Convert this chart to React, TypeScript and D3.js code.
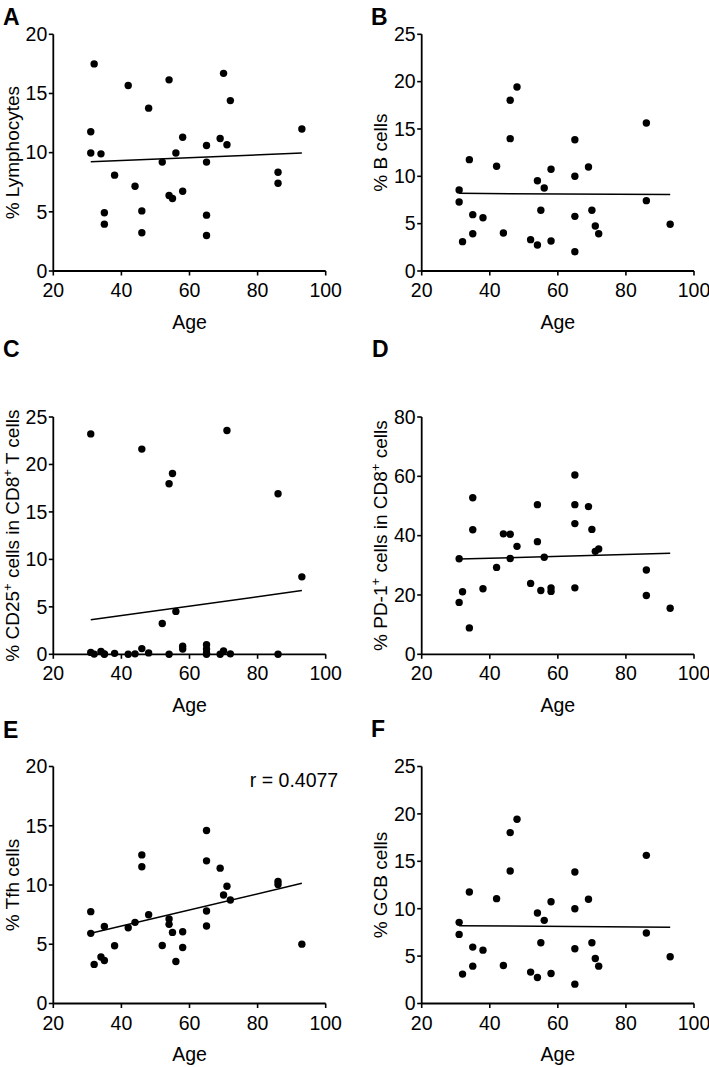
import React from 'react';
import * as d3 from 'd3';

// Ages (shared cohort, x values)
const ages = [31, 31, 32, 34, 35, 35, 38, 42, 44, 46, 46, 48, 52, 54, 54, 55, 56, 58, 58, 65, 65, 65, 65, 69, 70, 71, 72, 86, 86, 93];

// Series values, in the same order as ages
const lymphocytes = [11.77, 9.97, 17.5, 9.9, 4.92, 3.96, 8.1, 15.67, 7.16, 5.08, 3.23, 13.76, 9.2, 16.15, 6.38, 6.12, 9.97, 11.3, 6.74, 10.6, 9.2, 4.72, 3.0, 11.2, 16.7, 10.67, 14.4, 8.34, 7.42, 12.0];
const bCells = [8.56, 7.29, 3.1, 11.76, 5.95, 3.94, 5.63, 11.06, 4.01, 18.03, 13.98, 19.44, 3.31, 9.54, 2.75, 6.41, 8.77, 10.74, 3.17, 13.87, 10.0, 5.77, 2.04, 10.99, 6.41, 4.75, 3.94, 15.63, 7.43, 4.93];
const cd25 = [23.22, 0.2, 0.02, 0.3, 0.05, 0.0, 0.1, 0.0, 0.05, 21.62, 0.6, 0.15, 3.25, 17.96, 0.0, 19.04, 4.52, 0.85, 0.55, 1.0, 0.55, 0.15, 0.0, 0.0, 0.35, 23.57, 0.05, 16.92, 0.0, 8.16];
const pd1 = [32.2, 17.5, 21.07, 8.9, 52.8, 42.0, 22.1, 29.3, 40.6, 40.45, 32.3, 36.4, 23.9, 50.45, 37.97, 21.5, 32.7, 22.4, 21.2, 60.45, 50.45, 44.06, 22.4, 49.8, 42.1, 34.7, 35.5, 28.4, 19.8, 15.5];
const tfh = [7.75, 5.92, 3.3, 3.92, 6.5, 3.63, 4.87, 6.39, 6.85, 12.54, 11.54, 7.49, 4.9, 7.13, 6.68, 6.0, 3.55, 6.06, 4.73, 14.6, 12.04, 7.8, 6.54, 11.42, 9.15, 9.9, 8.73, 10.3, 10.05, 5.01];
const gcb = [8.56, 7.29, 3.1, 11.76, 5.95, 3.94, 5.63, 11.06, 4.01, 18.03, 13.98, 19.44, 3.31, 9.54, 2.75, 6.41, 8.77, 10.74, 3.17, 13.87, 10.0, 5.77, 2.04, 10.99, 6.41, 4.75, 3.94, 15.63, 7.43, 4.93];

// Fitted regression lines (endpoints)
const fitA: [number, number][] = [[31, 9.24], [93, 9.97]];
const fitB: [number, number][] = [[31, 8.2], [93, 8.08]];
const fitC: [number, number][] = [[31, 3.64], [93, 6.71]];
const fitD: [number, number][] = [[31, 32.1], [93, 34.1]];
const fitE: [number, number][] = [[31, 5.92], [93, 10.14]];
const fitF: [number, number][] = [[31, 8.2], [93, 8.05]];

// Tick labels
const xTicks = [20, 40, 60, 80, 100];
const ticks20 = [0, 5, 10, 15, 20];
const ticks25 = [0, 5, 10, 15, 20, 25];
const ticks80 = [0, 20, 40, 60, 80];

type Seg = { t: string; sup?: boolean };

const labelA: Seg[] = [{ t: '% Lymphocytes' }];
const labelB: Seg[] = [{ t: '% B cells' }];
const labelC: Seg[] = [{ t: '% CD25' }, { t: '+', sup: true }, { t: ' cells in CD8' }, { t: '+', sup: true }, { t: ' T cells' }];
const labelD: Seg[] = [{ t: '% PD-1' }, { t: '+', sup: true }, { t: ' cells in CD8' }, { t: '+', sup: true }, { t: ' cells' }];
const labelE: Seg[] = [{ t: '% Tfh cells' }];
const labelF: Seg[] = [{ t: '% GCB cells' }];

const FONT = '"Liberation Sans", Arial, Helvetica, sans-serif';

type PanelCfg = {
  letter: string;
  values: number[];
  fit: [number, number][];
  yTicks: number[];
  label: Seg[];
  x0: number; x1: number; yTop: number; yBot: number;
  letterX: number; letterY: number;
  note?: string;
};

const COLL = [53.3, 325.7];
const COLR = [421.7, 694];

const panels: PanelCfg[] = [
  { letter: 'A', values: lymphocytes, fit: fitA, yTicks: ticks20, label: labelA, x0: COLL[0], x1: COLL[1], yTop: 34.3, yBot: 271, letterX: 3, letterY: 24.5 },
  { letter: 'B', values: bCells, fit: fitB, yTicks: ticks25, label: labelB, x0: COLR[0], x1: COLR[1], yTop: 34.3, yBot: 271, letterX: 371, letterY: 24.5 },
  { letter: 'C', values: cd25, fit: fitC, yTicks: ticks25, label: labelC, x0: COLL[0], x1: COLL[1], yTop: 417, yBot: 654.3, letterX: 3, letterY: 357 },
  { letter: 'D', values: pd1, fit: fitD, yTicks: ticks80, label: labelD, x0: COLR[0], x1: COLR[1], yTop: 417, yBot: 654.3, letterX: 372, letterY: 357 },
  { letter: 'E', values: tfh, fit: fitE, yTicks: ticks20, label: labelE, x0: COLL[0], x1: COLL[1], yTop: 766.5, yBot: 1003.5, letterX: 3, letterY: 738 },
  { letter: 'F', values: gcb, fit: fitF, yTicks: ticks25, label: labelF, x0: COLR[0], x1: COLR[1], yTop: 766.5, yBot: 1003.5, letterX: 371, letterY: 737 },
];
panels[4].note = 'r = 0.4077';

function Panel({ p }: { p: PanelCfg }) {
  const x = d3.scaleLinear().domain([20, 100]).range([p.x0, p.x1]);
  const yMax = p.yTicks[p.yTicks.length - 1];
  const y = d3.scaleLinear().domain([0, yMax]).range([p.yBot, p.yTop]);
  const line = d3.line<[number, number]>().x(d => x(d[0])).y(d => y(d[1]));
  const cy = (p.yTop + p.yBot) / 2;
  const lx = p.x0 - 34.5;
  return (
    <g>
      <text x={p.letterX} y={p.letterY} fontFamily={FONT} fontWeight="bold" fontSize={23}>{p.letter}</text>
      {/* axes */}
      <line x1={p.x0} x2={p.x0} y1={y(0)} y2={y(yMax)} stroke="#000" strokeWidth={1.8} />
      <line x1={x(20)} x2={x(100)} y1={y(0)} y2={y(0)} stroke="#000" strokeWidth={1.8} />
      {p.yTicks.map(t => (
        <g key={'y' + t}>
          <line x1={p.x0 - 4.5} x2={p.x0} y1={y(t)} y2={y(t)} stroke="#000" strokeWidth={1.6} />
          <text x={p.x0 - 6} y={y(t)} dy="0.35em" textAnchor="end" fontFamily={FONT} fontSize={19.5}>{t}</text>
        </g>
      ))}
      {xTicks.map(t => (
        <g key={'x' + t}>
          <line x1={x(t)} x2={x(t)} y1={y(0)} y2={y(0) + 4.5} stroke="#000" strokeWidth={1.6} />
          <text x={x(t)} y={y(0) + 26} textAnchor="middle" fontFamily={FONT} fontSize={19.5}>{t}</text>
        </g>
      ))}
      <text x={(p.x0 + p.x1) / 2} y={y(0) + 57.5} textAnchor="middle" fontFamily={FONT} fontSize={19.5}>Age</text>
      <text transform={`translate(${lx},${cy}) rotate(-90)`} textAnchor="middle" fontFamily={FONT} fontSize={19}>
        {p.label.map((s, i) => {
          const prevSup = i > 0 && p.label[i - 1].sup;
          if (s.sup) return <tspan key={i} dy={-7} fontSize={13}>{s.t}</tspan>;
          return <tspan key={i} dy={prevSup ? 7 : 0}>{s.t}</tspan>;
        })}
      </text>
      {p.note && (
        <text x={x(100) + 12.5} y={y(yMax) + 20.5} textAnchor="end" fontFamily={FONT} fontSize={19.5}>{p.note}</text>
      )}
      <path d={line(p.fit) || ''} fill="none" stroke="#000" strokeWidth={1.5} />
      {p.values.map((v, i) => (
        <circle key={i} cx={x(ages[i])} cy={y(v)} r={3.7} fill="#000" />
      ))}
    </g>
  );
}

export default function App() {
  return (
    <svg width={709} height={1067} viewBox="0 0 709 1067" style={{ position: 'absolute', left: 0, top: 0, background: '#fff' }}>
      <rect width={709} height={1067} fill="#fff" />
      {panels.map(p => <Panel key={p.letter} p={p} />)}
    </svg>
  );
}
